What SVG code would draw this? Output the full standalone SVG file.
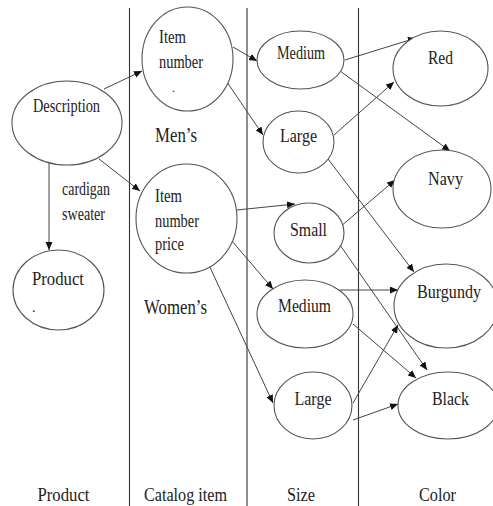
<svg xmlns="http://www.w3.org/2000/svg" width="493" height="506" viewBox="0 0 493 506">
<style>
text{font-family:"Liberation Serif","Times New Roman",serif;font-size:19px;fill:#222;lengthAdjust:spacingAndGlyphs}
.n{fill:#fff;stroke:#555;stroke-width:1.1}
.c{stroke:#444;stroke-width:1;fill:none;marker-end:url(#a)}
.col{stroke:#333;stroke-width:1.1}
.m{text-anchor:middle}
</style>
<defs>
<marker id="a" markerUnits="userSpaceOnUse" markerWidth="9" markerHeight="8" refX="8" refY="3.5" orient="auto">
<path d="M0,0 L8,3.5 L0,7 z" fill="#111"/>
</marker>
</defs>
<rect width="493" height="506" fill="#fff"/>
<g id="columns">
<line class="col" x1="129.5" y1="8" x2="129.5" y2="506"/>
<line class="col" x1="247" y1="8" x2="247" y2="506"/>
<line class="col" x1="358.5" y1="8" x2="358.5" y2="506"/>
</g>
<g id="connectors">
<line class="c" x1="49" y1="162" x2="49" y2="250"/>
<line class="c" x1="104" y1="89" x2="142" y2="71"/>
<line class="c" x1="99" y1="159" x2="140" y2="191"/>
<line class="c" x1="233" y1="47" x2="257" y2="61"/>
<line class="c" x1="227" y1="82" x2="263" y2="135"/>
<line class="c" x1="237" y1="210" x2="295" y2="204"/>
<line class="c" x1="232" y1="241" x2="273" y2="289"/>
<line class="c" x1="208" y1="263" x2="273" y2="403"/>
<line class="c" x1="345" y1="60" x2="416" y2="38"/>
<line class="c" x1="340" y1="71" x2="450" y2="151"/>
<line class="c" x1="334" y1="135" x2="394" y2="82"/>
<line class="c" x1="328" y1="159" x2="414" y2="272"/>
<line class="c" x1="340" y1="227" x2="395" y2="180"/>
<line class="c" x1="340" y1="245" x2="427" y2="370"/>
<line class="c" x1="340" y1="290" x2="398" y2="290"/>
<line class="c" x1="353" y1="324" x2="416" y2="378"/>
<line class="c" x1="353" y1="403" x2="398" y2="325"/>
<line class="c" x1="353" y1="420" x2="398" y2="404"/>
</g>
<g id="description">
<ellipse class="n" cx="67" cy="123" rx="55" ry="42"/>
<text x="33" y="112" textLength="67" lengthAdjust="spacingAndGlyphs">Description</text>
</g>
<g id="cardigan-label">
<text x="62" y="195" textLength="48" lengthAdjust="spacingAndGlyphs">cardigan</text>
<text x="62" y="220" textLength="43" lengthAdjust="spacingAndGlyphs">sweater</text>
</g>
<g id="product">
<ellipse class="n" cx="58.5" cy="290" rx="45.5" ry="40"/>
<text x="32" y="285" textLength="52" lengthAdjust="spacingAndGlyphs">Product</text>
<text x="32" y="312" style="font-size:14px">.</text>
</g>
<g id="item-mens">
<ellipse class="n" cx="187.5" cy="59" rx="45.5" ry="52"/>
<text x="159" y="43" textLength="27" lengthAdjust="spacingAndGlyphs">Item</text>
<text x="159" y="68" textLength="44" lengthAdjust="spacingAndGlyphs">number</text>
<text x="172" y="92" style="font-size:12px">.</text>
</g>
<g id="mens-label">
<text x="155" y="142" textLength="42" lengthAdjust="spacingAndGlyphs" style="font-size:20px">Men’s</text>
</g>
<g id="item-womens">
<ellipse class="n" cx="186.5" cy="218.5" rx="50.5" ry="54.5"/>
<text x="155" y="202" textLength="27" lengthAdjust="spacingAndGlyphs">Item</text>
<text x="155" y="227" textLength="44" lengthAdjust="spacingAndGlyphs">number</text>
<text x="155" y="250" textLength="29" lengthAdjust="spacingAndGlyphs">price</text>
</g>
<g id="womens-label">
<text x="144" y="314" textLength="63" lengthAdjust="spacingAndGlyphs" style="font-size:20px">Women’s</text>
</g>
<g id="medium-1">
<ellipse class="n" cx="300.5" cy="60" rx="43.5" ry="29"/>
<text class="m" x="301" y="59" textLength="48" lengthAdjust="spacingAndGlyphs">Medium</text>
</g>
<g id="large-1">
<ellipse class="n" cx="298.5" cy="142" rx="35.5" ry="31"/>
<text class="m" x="298.5" y="142" textLength="37" lengthAdjust="spacingAndGlyphs">Large</text>
</g>
<g id="small">
<ellipse class="n" cx="309" cy="233" rx="35" ry="30"/>
<text class="m" x="308.5" y="236" textLength="37" lengthAdjust="spacingAndGlyphs">Small</text>
</g>
<g id="medium-2">
<ellipse class="n" cx="305" cy="314" rx="48" ry="34"/>
<text class="m" x="304.5" y="312" textLength="53" lengthAdjust="spacingAndGlyphs">Medium</text>
</g>
<g id="large-2">
<ellipse class="n" cx="313" cy="405.5" rx="39" ry="33.5"/>
<text class="m" x="313" y="405" textLength="37" lengthAdjust="spacingAndGlyphs">Large</text>
</g>
<g id="red">
<ellipse class="n" cx="440.5" cy="68.5" rx="47.5" ry="37.5"/>
<text class="m" x="440.5" y="64" textLength="25" lengthAdjust="spacingAndGlyphs">Red</text>
</g>
<g id="navy">
<ellipse class="n" cx="442" cy="189" rx="49" ry="39"/>
<text class="m" x="445.5" y="185" textLength="35" lengthAdjust="spacingAndGlyphs">Navy</text>
</g>
<g id="burgundy">
<ellipse class="n" cx="446" cy="306" rx="52" ry="42"/>
<text class="m" x="449" y="298" textLength="64" lengthAdjust="spacingAndGlyphs">Burgundy</text>
</g>
<g id="black">
<ellipse class="n" cx="448" cy="405.5" rx="50" ry="33.5"/>
<text class="m" x="450.5" y="405" textLength="37" lengthAdjust="spacingAndGlyphs">Black</text>
</g>
<g id="column-labels">
<text class="m" x="63.5" y="501" textLength="52" lengthAdjust="spacingAndGlyphs">Product</text>
<text class="m" x="185.5" y="501" textLength="83" lengthAdjust="spacingAndGlyphs">Catalog item</text>
<text class="m" x="301" y="501" textLength="28" lengthAdjust="spacingAndGlyphs">Size</text>
<text class="m" x="437.5" y="501" textLength="37" lengthAdjust="spacingAndGlyphs">Color</text>
</g>
</svg>
